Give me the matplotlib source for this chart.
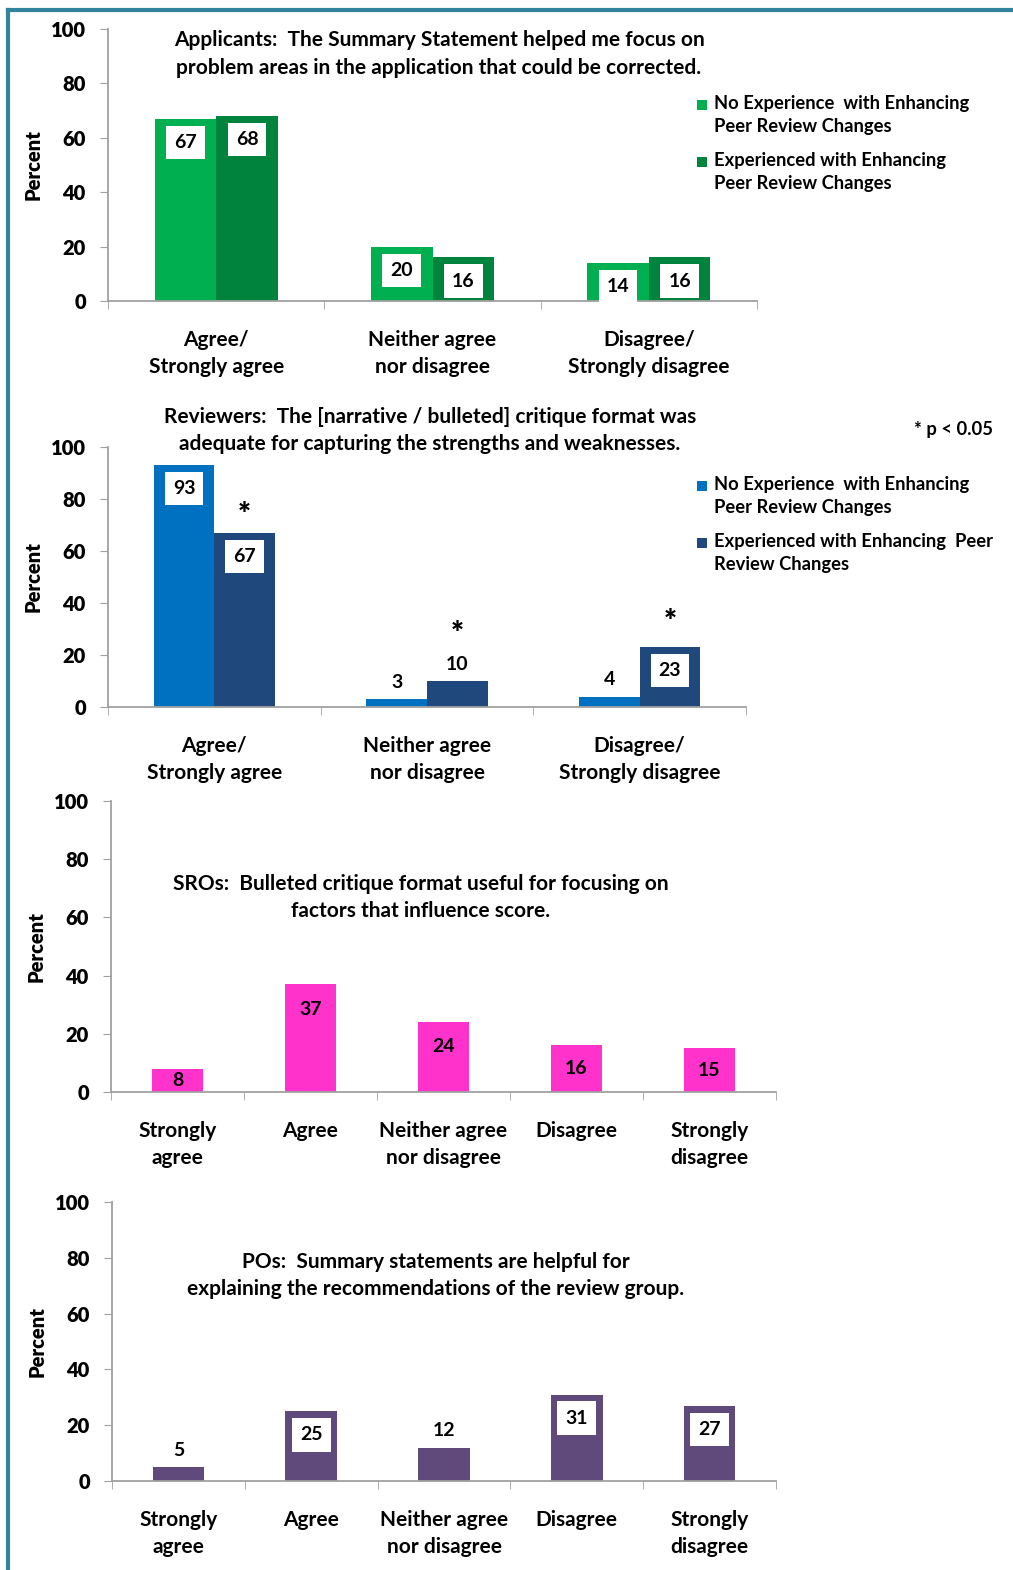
import numpy as np
import matplotlib.pyplot as plt
from matplotlib import patches
from matplotlib.lines import Line2D

plt.rcParams["font.family"] = ["Lato", "DejaVu Sans"]
plt.rcParams["font.weight"] = "bold"

# ---- data ----
cats3 = ["Agree/\nStrongly agree", "Neither agree\nnor disagree", "Disagree/\nStrongly disagree"]
cats5 = ["Strongly\nagree", "Agree", "Neither agree\nnor disagree", "Disagree", "Strongly\ndisagree"]
series_names1 = ["No Experience  with Enhancing\nPeer Review Changes",
                 "Experienced with Enhancing\nPeer Review Changes"]
series_names2 = ["No Experience  with Enhancing\nPeer Review Changes",
                 "Experienced with Enhancing  Peer\nReview Changes"]
applicants_noexp = [67, 20, 14]
applicants_exp = [68, 16, 16]
reviewers_noexp = [93, 3, 4]
reviewers_exp = [67, 10, 23]
reviewers_sig = [True, True, True]
sros = [8, 37, 24, 16, 15]
pos = [5, 25, 12, 31, 27]

title1 = "Applicants:  The Summary Statement helped me focus on\nproblem areas in the application that could be corrected."
title2 = "Reviewers:  The [narrative / bulleted] critique format was\nadequate for capturing the strengths and weaknesses."
title3 = "SROs:  Bulleted critique format useful for focusing on\nfactors that influence score."
title4 = "POs:  Summary statements are helpful for\nexplaining the recommendations of the review group."

W, H = 1013, 1570
fig = plt.figure(figsize=(W / 100, H / 100), dpi=100)


def add_ax(x0, x1, y100, y0):
    # pixel coords -> figure fraction
    return fig.add_axes([x0 / W, 1 - y0 / H, (x1 - x0) / W, (y0 - y100) / H])


def style(ax, cats):
    ax.set_ylim(0, 100)
    ax.set_yticks(np.arange(0, 101, 20))
    ax.set_xlim(-0.5, len(cats) - 0.5)
    ax.set_xticks(np.arange(len(cats)))
    ax.set_xticklabels(cats, fontsize=15, linespacing=1.45, fontweight="bold")
    ax.set_xticks(np.arange(len(cats) + 1) - 0.5, minor=True)
    ax.tick_params(axis="x", which="major", length=0, pad=21)
    ax.tick_params(axis="x", which="minor", length=6, color="#A0A0A0", direction="out")
    ax.tick_params(axis="y", length=6, color="#A0A0A0", labelsize=14.5, pad=10)
    for t in ax.get_yticklabels():
        t.set_fontweight("heavy")
    for s in ["top", "right"]:
        ax.spines[s].set_visible(False)
    for s in ["left", "bottom"]:
        ax.spines[s].set_color("#A0A0A0")
        ax.spines[s].set_linewidth(1.3)
    ax.set_ylabel("Percent", fontsize=14.5, labelpad=6, fontweight="heavy")


def label(ax, x, v, boxed, inside_offset=-17):
    if boxed:
        ax.annotate(str(v), (x, v), xytext=(0, inside_offset), textcoords="offset points",
                    ha="center", va="center", fontsize=14, fontweight="bold",
                    bbox=dict(boxstyle="square,pad=0.42", fc="white", ec="none"))
    else:
        ax.annotate(str(v), (x, v), xytext=(0, 12), textcoords="offset points",
                    ha="center", va="center", fontsize=14, fontweight="bold")


def legend(x, y, colors, names, gap=57):
    for i, (c, n) in enumerate(zip(colors, names)):
        yy = y + i * gap
        fig.patches.append(patches.Rectangle(((x) / W, 1 - (yy + 5) / H), 10 / W, 10 / H,
                                             transform=fig.transFigure, fc=c, ec="none"))
        fig.text((x + 17) / W, 1 - (yy - 10) / H, n, fontsize=13.2, va="top", ha="left",
                 linespacing=1.45)


bw = 0.285

# ---- panel 1: applicants ----
c1a, c1b = "#00B050", "#00843D"
ax1 = add_ax(108, 757, 29, 301)
x = np.arange(3)
ax1.bar(x - bw / 2, applicants_noexp, bw, color=c1a)
ax1.bar(x + bw / 2, applicants_exp, bw, color=c1b)
for i in x:
    label(ax1, i - bw / 2, applicants_noexp[i], True)
    label(ax1, i + bw / 2, applicants_exp[i], True)
style(ax1, cats3)
ax1.text(0.51, 0.995, title1, transform=ax1.transAxes, ha="center", va="top", fontsize=15,
         linespacing=1.45)
legend(697, 105, [c1a, c1b], series_names1)

# ---- panel 2: reviewers ----
c2a, c2b = "#0070C0", "#1F497D"
ax2 = add_ax(108, 746, 447, 707)
ax2.bar(x - bw / 2, reviewers_noexp, bw, color=c2a)
ax2.bar(x + bw / 2, reviewers_exp, bw, color=c2b)
star_off = [19, 40, 24]
for i in x:
    label(ax2, i - bw / 2, reviewers_noexp[i], reviewers_noexp[i] > 15)
    label(ax2, i + bw / 2, reviewers_exp[i], reviewers_exp[i] > 15)
    if reviewers_sig[i]:
        ax2.annotate("*", (i + bw / 2, reviewers_exp[i]), xytext=(0, star_off[i] - 6),
                     textcoords="offset points", ha="center", va="center", fontsize=22,
                     fontweight="heavy")
style(ax2, cats3)
fig.text(430 / W, 1 - 407 / H, title2, ha="center", va="top", fontsize=15, linespacing=1.45)
fig.text(993 / W, 1 - 430 / H, "* p < 0.05", ha="right", va="center", fontsize=13.2)
legend(697, 486, [c2a, c2b], series_names2)

# ---- panel 3: SROs ----
ax3 = add_ax(111, 776, 801, 1092)
x5 = np.arange(5)
bw5 = 0.39
ax3.bar(x5, sros, bw5, color="#FF33CC")
for i in x5:
    ax3.text(i, max(sros[i] - 8.5, sros[i] / 2), str(sros[i]), ha="center", va="center",
             fontsize=14, fontweight="bold")
style(ax3, cats5)
ax3.text(0.466, 0.75, title3, transform=ax3.transAxes, ha="center", va="top", fontsize=15,
         linespacing=1.45)

# ---- panel 4: POs ----
ax4 = add_ax(112, 776, 1202, 1481)
ax4.bar(x5, pos, bw5, color="#604A7B")
for i in x5:
    label(ax4, i, pos[i], pos[i] > 20)
style(ax4, cats5)
ax4.text(0.488, 0.82, title4, transform=ax4.transAxes, ha="center", va="top", fontsize=15,
         linespacing=1.45)

# ---- frame ----
fc = "#31849B"
fig.add_artist(Line2D([8 / W, 8 / W], [0, 1 - 10 / H], transform=fig.transFigure, color=fc, lw=3))
fig.add_artist(Line2D([8 / W, 1], [1 - 10 / H, 1 - 10 / H], transform=fig.transFigure, color=fc, lw=3))

fig.savefig("out.png", dpi=100)
